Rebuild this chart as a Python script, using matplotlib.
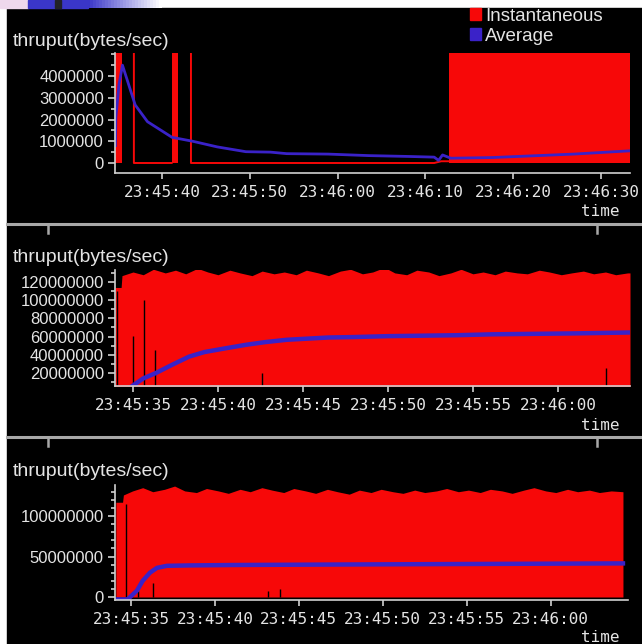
import numpy as np
import matplotlib
matplotlib.use("Agg")
import matplotlib.pyplot as plt
from matplotlib.patches import Rectangle, Patch
from matplotlib.ticker import MultipleLocator

# all times are seconds after 23:45:00

# ---- top panel ----
p1_burst_start = [34.65, 41.1, 72.7]
p1_burst_end = [35.45, 41.8, 93.3]
p1_burst_top = [5.2e6, 5.2e6, 5.2e6]
p1_inst_t = [36.8, 36.8, 41.1, np.nan, 43.3, 43.3, 71.0, 71.8, 72.7]
p1_inst_v = [5.2e6, 0, 0, np.nan, 5.2e6, 0, 0, 0.08e6, 0.08e6]
p1_avg_t = [34.7, 34.75, 35.1, 35.5, 36.95, 38.35, 41.15, 43.5, 46.3, 49.55,
            52.35, 54.2, 58.9, 63.55, 68.2, 71.0, 71.5, 71.95, 72.9, 77.55,
            82.2, 86.9, 91.55, 93.3]
p1_avg_v = [0.8e6, 2.1e6, 3.6e6, 4.5e6, 2.67e6, 1.9e6, 1.18e6, 1.0e6, 0.74e6, 0.52e6,
            0.5e6, 0.43e6, 0.41e6, 0.34e6, 0.3e6, 0.27e6, 0.12e6, 0.37e6, 0.22e6, 0.25e6,
            0.33e6, 0.41e6, 0.52e6, 0.56e6]

# ---- middle panel ----
p2_top_t = [33.94, 34.3, 34.35, 35.0, 35.6, 36.2, 36.9, 37.5, 38.1, 38.8, 39.4, 40.0,
            40.7, 41.3, 42.0, 42.6, 43.3, 43.9, 44.6, 45.2, 45.9, 46.5, 47.2, 47.8,
            48.5, 49.1, 49.8, 50.4, 51.1, 51.7, 52.4, 53.0, 53.7, 54.3, 55.0, 55.6,
            56.3, 56.9, 57.6, 58.2, 58.9, 59.5, 60.2, 60.8, 61.5, 62.1, 62.8, 63.4,
            64.1, 64.24]
p2_top_v = [114, 114, 127, 131, 128, 134, 130, 133, 129, 135, 131, 128,
            133, 130, 127, 132, 129, 131, 128, 133, 130, 127, 132, 134,
            129, 131, 136, 130, 128, 133, 131, 127, 130, 134, 129, 131,
            128, 132, 130, 129, 133, 131, 128, 130, 132, 129, 131, 128,
            130, 130]
p2_avg_t = [34.9, 35.6, 36.35, 37.3, 38.3, 39.2, 40.4, 41.65, 42.8, 44.05, 45.5,
            46.5, 48.0, 50.0, 52.0, 54.0, 56.1, 58.5, 60.9, 64.2]
p2_avg_v = [5, 14, 20, 29, 38, 43, 47, 51, 54, 56.5, 58,
            59, 59.5, 60.5, 61, 61.5, 62.5, 63, 63.5, 64.5]
p2_gap_t = [34.06, 35.0, 35.65, 36.3, 42.6, 62.8]
p2_gap_top = [110, 61, 100, 45, 20, 26]

# ---- bottom panel ----
p3_top_t = [34.1, 34.5, 34.55, 35.1, 35.7, 36.3, 37.0, 37.6, 38.2, 38.9, 39.5, 40.2,
            40.8, 41.5, 42.1, 42.8, 43.4, 44.1, 44.7, 45.4, 46.0, 46.7, 47.3, 48.0,
            48.6, 49.3, 49.9, 50.6, 51.2, 51.9, 52.5, 53.2, 53.8, 54.5, 55.1, 55.8,
            56.4, 57.1, 57.7, 58.4, 59.0, 59.7, 60.3, 61.0, 61.6, 62.3, 62.9, 63.6,
            64.3]
p3_top_v = [117, 117, 126, 131, 135, 130, 133, 137, 131, 129, 134, 131,
            128, 133, 130, 135, 132, 129, 134, 131, 128, 133, 130, 127,
            132, 129, 133, 130, 128, 132, 129, 131, 134, 130, 132, 129,
            133, 131, 128, 132, 135, 131, 129, 133, 130, 132, 129, 131,
            130]
p3_avg_t = [34.1, 34.8, 35.36, 35.7, 36.13, 36.55, 37.14, 38.5, 41.0, 46.0, 52.0, 58.0, 64.3]
p3_avg_v = [-3, -3, 8, 20, 30, 36, 38.5, 39, 39.5, 40, 40.5, 41, 41.5]
p3_gap_t = [34.7, 35.4, 36.3, 43.15, 43.9]
p3_gap_top = [115, 8, 17, 8, 10]

RED = "#f70808"
BLUE = "#3a22c8"
FG = "#e4e4e4"
W, H = 642, 644


def clock(s):
    s = int(round(s))
    return "23:%02d:%02d" % (45 + s // 60, s % 60)


def style(ax, xticks, yticks, yminor, xlim, ylim):
    ax.set_facecolor("black")
    for side in ["top", "right"]:
        ax.spines[side].set_visible(False)
    for side in ["left", "bottom"]:
        ax.spines[side].set_color("#d0d0d0")
        ax.spines[side].set_linewidth(1.2)
    ax.set_xticks(xticks, labels=[clock(t) for t in xticks],
                  fontfamily="DejaVu Sans Mono", fontsize=11.5)
    ax.set_yticks(yticks, labels=["%d" % v for v in yticks],
                  fontfamily="Liberation Sans", fontsize=12)
    ax.yaxis.set_minor_locator(MultipleLocator(yminor))
    ax.tick_params(which="both", color="#d0d0d0", labelcolor=FG, width=1.2)
    ax.tick_params(axis="x", length=4, pad=5)
    ax.tick_params(axis="y", which="major", length=5, pad=3)
    ax.tick_params(axis="y", which="minor", length=3)
    ax.set_xlim(*xlim)
    ax.set_ylim(*ylim)


fig = plt.figure(figsize=(6.42, 6.44), dpi=100, facecolor="white")
fig.add_artist(Rectangle((7 / W, 0), 1 - 7 / W, 1 - 8 / H, transform=fig.transFigure,
                         color="black", zorder=-10))
# slide decoration along the top edge
fig.add_artist(Rectangle((0, 1 - 8 / H), 28 / W, 8 / H, transform=fig.transFigure,
                         color="#eed8ec", zorder=-9))
fig.add_artist(Rectangle((28 / W, 1 - 8 / H), 60 / W, 8 / H, transform=fig.transFigure,
                         color="#3a36c8", zorder=-9))
fig.add_artist(Rectangle((55 / W, 1 - 8 / H), 6 / W, 8 / H, transform=fig.transFigure,
                         color="#222228", zorder=-8))
fade = matplotlib.colors.LinearSegmentedColormap.from_list("g", ["#3a36c8", "#ffffff"])
for i in range(25):
    fig.add_artist(Rectangle(((87 + 3 * i) / W, 1 - 8 / H), 3.2 / W, 8 / H,
                             transform=fig.transFigure, color=fade(i / 24), lw=0,
                             zorder=-9))

# separators between panels
for ys in [223.5, 436.8]:
    fig.add_artist(plt.Line2D([7 / W, 1], [1 - ys / H] * 2, transform=fig.transFigure,
                              color="#a8a8a8", lw=2.2))
    for xs in [48, 597]:
        fig.add_artist(plt.Line2D([xs / W] * 2, [1 - ys / H, 1 - (ys + 9) / H],
                                  transform=fig.transFigure, color="#a8a8a8", lw=1.8))

# ---- top panel ----
ax1 = fig.add_axes([115 / W, 1 - 173 / H, 515 / W, 120 / H])
for a, b, top in zip(p1_burst_start, p1_burst_end, p1_burst_top):
    ax1.fill_between([a, b], 0, top, color=RED, lw=0)
ax1.plot(p1_inst_t, p1_inst_v, color=RED, lw=1.4)
ax1.plot(p1_avg_t, p1_avg_v, color=BLUE, lw=2)
style(ax1, [40, 50, 60, 70, 80, 90], [0, 1000000, 2000000, 3000000, 4000000], 500000,
      (34.65, 93.3), (-0.46e6, 5.06e6))

# ---- middle panel ----
ax2 = fig.add_axes([115 / W, 1 - 386 / H, 515 / W, 116 / H])
ax2.fill_between(p2_top_t, 0, np.array(p2_top_v) * 1e6, color=RED, lw=0)
ax2.vlines(p2_gap_t, 0, np.array(p2_gap_top) * 1e6, color="black", lw=1)
ax2.plot(p2_avg_t, np.array(p2_avg_v) * 1e6, color=BLUE, lw=3.2)
style(ax2, [35, 40, 45, 50, 55, 60], [20000000, 40000000, 60000000, 80000000,
      100000000, 120000000], 10000000, (33.94, 64.24), (5.7e6, 133.2e6))

# ---- bottom panel ----
ax3 = fig.add_axes([115 / W, 1 - 600 / H, 513 / W, 115 / H])
ax3.fill_between(p3_top_t, 0, np.array(p3_top_v) * 1e6, color=RED, lw=0)
ax3.vlines(p3_gap_t, 0, np.array(p3_gap_top) * 1e6, color="black", lw=1)
ax3.plot(p3_avg_t, np.array(p3_avg_v) * 1e6, color=BLUE, lw=3.2)
style(ax3, [35, 40, 45, 50, 55, 60], [0, 50000000, 100000000], 10000000,
      (34.05, 64.6), (-3.7e6, 138.3e6))

# titles and axis names
for ytxt in [41, 258, 471]:
    fig.text(13 / W, 1 - ytxt / H, "thruput(bytes/sec)", color=FG, fontsize=14,
             fontfamily="Liberation Sans", va="center", ha="left")
for ytxt in [211, 425, 638]:
    fig.text(620 / W, 1 - ytxt / H, "time", color=FG, fontsize=11.5,
             fontfamily="DejaVu Sans Mono", va="center", ha="right")

fig.legend([Patch(color=RED), Patch(color=BLUE)], ["Instantaneous", "Average"],
           loc="upper left", bbox_to_anchor=(470 / W, 1 - 8 / H), frameon=False,
           handlelength=0.6, handleheight=0.6, handletextpad=0.2, labelspacing=0.15,
           borderpad=0, borderaxespad=0, labelcolor=FG,
           prop={"family": "Liberation Sans", "size": 13.5})

fig.savefig("out.png", dpi=100, facecolor=fig.get_facecolor())
